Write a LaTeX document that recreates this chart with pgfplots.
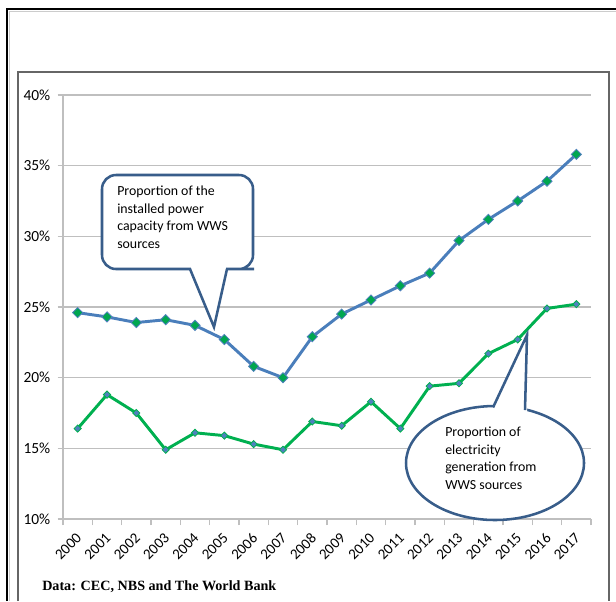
\documentclass[border=0pt]{standalone}
\usepackage{pgfplots}
\pgfplotsset{compat=1.18}
\usepackage{fontspec}
\setmainfont{Carlito}
\newfontfamily\timesf{Liberation Serif}
\definecolor{capblue}{HTML}{4A7EBB}
\definecolor{gengreen}{HTML}{00B050}
\definecolor{mkgreen}{HTML}{00A650}
\definecolor{mkblue}{HTML}{4F81BD}
\definecolor{callout}{HTML}{385D8A}
\definecolor{gridc}{HTML}{BFBFBF}
\begin{document}
\begin{tikzpicture}
\begin{scope}[x=0.75pt,y=-0.75pt]
\useasboundingbox (0,0) rectangle (616,601);
\fill[white] (0,0) rectangle (616,601);
% outer frame
\draw[black, line width=1.8pt] (7,601) -- (7,9) -- (616,9);
\draw[gray!40, line width=0.6pt] (9.5,601) -- (9.5,11.5) -- (616,11.5);
% inner chart box
\draw[gray!80!black, line width=1pt] (18,601) -- (18,72) -- (609,72) -- (609,601);
\node[anchor=base west, inner sep=0pt, font=\timesf\bfseries\fontsize{10.6}{12}\selectfont] at (42,590) {Data: CEC, NBS and The World Bank};
\end{scope}
\begin{axis}[
  at={(47.25pt,-389.25pt)}, anchor=south west,
  scale only axis, width=396pt, height=318pt,
  xmin=-0.5, xmax=17.5, ymin=10, ymax=40,
  axis x line*=bottom, axis y line*=left,
  axis line style={gridc, line width=0.8pt},
  xtick={0,...,17},
  xticklabels={2000,2001,2002,2003,2004,2005,2006,2007,2008,2009,2010,2011,2012,2013,2014,2015,2016,2017},
  major x tick style={draw=none},
  minor xtick={-0.5,0.5,...,17.5},
  minor x tick style={gridc, line width=0.8pt},
  ytick={10,15,20,25,30,35,40},
  yticklabels={10\%,15\%,20\%,25\%,30\%,35\%,40\%},
  y tick style={gridc, line width=0.8pt},
  tick align=outside,
  major tick length=4pt, minor tick length=4.5pt,
  ymajorgrids, grid style={gridc, line width=0.8pt},
  yticklabel style={font=\fontsize{11.6}{12}\selectfont, xshift=-2pt},
  xticklabel style={font=\fontsize{11.2}{12}\selectfont, xshift=-1.7pt, yshift=-1pt, rotate=45, anchor=north east},
  clip=false,
]
\addplot[capblue, line width=2.2pt, mark=square*, mark size=2.7pt,
  mark options={rotate=45, fill=mkgreen, draw=mkblue, line width=0.6pt}]
  coordinates {(0,24.6)(1,24.3)(2,23.9)(3,24.1)(4,23.7)(5,22.7)(6,20.8)(7,20.0)(8,22.9)
  (9,24.5)(10,25.5)(11,26.5)(12,27.4)(13,29.7)(14,31.2)(15,32.5)(16,33.9)(17,35.8)};
\addplot[gengreen, line width=2.2pt, mark=square*, mark size=1.9pt,
  mark options={rotate=45, fill=mkblue, draw=gengreen, line width=0.6pt}]
  coordinates {(0,16.4)(1,18.8)(2,17.5)(3,14.9)(4,16.1)(5,15.9)(6,15.3)(7,14.9)(8,16.9)
  (9,16.6)(10,18.3)(11,16.4)(12,19.4)(13,19.6)(14,21.7)(15,22.7)(16,24.9)(17,25.2)};
\end{axis}
\begin{scope}[x=0.75pt,y=-0.75pt]
% callout 1
\filldraw[fill=white, draw=callout, line width=1.9pt, line join=miter]
  (190,269) [rounded corners=10.5pt] -- (102,269) -- (102,175) -- (253,175) -- (253,269) -- (240,269) [sharp corners] -- (227,269) -- (214,327) -- cycle;
\node[anchor=north west, align=left, inner sep=0pt, font=\fontsize{10.4}{13.1}\selectfont] at (117,186)
  {Proportion of the\\installed power\\capacity from WWS\\sources};
% callout 2
\filldraw[fill=white, draw=callout, line width=1.9pt] (495,463) ellipse [x radius=89, y radius=57];
\fill[white] (491,410) -- (527,335) -- (527,413) -- cycle;
\draw[callout, line width=1.9pt, line join=miter] (493,407.5) -- (527,335) -- (525,410);
\node[anchor=north west, align=left, inner sep=0pt, font=\fontsize{10.4}{13.1}\selectfont] at (445,427)
  {Proportion of\\electricity\\generation from\\WWS sources};
\end{scope}
\end{tikzpicture}
\end{document}
